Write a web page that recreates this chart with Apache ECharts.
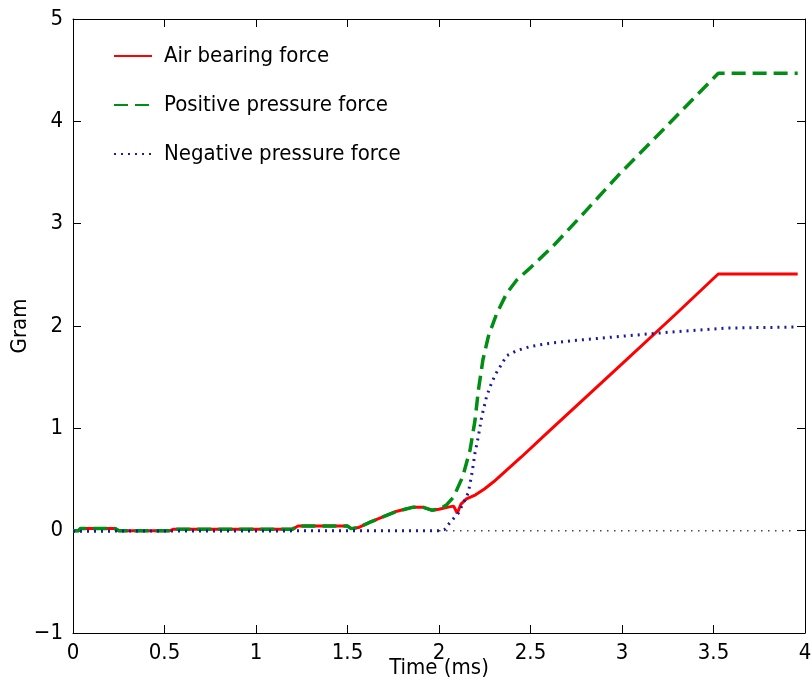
<!DOCTYPE html>
<html>
<head>
<meta charset="utf-8">
<script src="https://cdn.jsdelivr.net/npm/echarts@6/dist/echarts.min.js"></script>
<style>html,body{margin:0;padding:0;background:#fff;}#c{width:812px;height:685px;}</style>
</head>
<body>
<div id="c"></div>
<script>
// ---- data ----
var seriesNames = ['Air bearing force', 'Positive pressure force', 'Negative pressure force'];

var airTime  = [0, 0.03, 0.04, 0.23, 0.25, 0.53, 0.55, 1.2, 1.23, 1.5, 1.52, 1.56, 1.62, 1.7, 1.77, 1.86, 1.91, 1.96, 2.0, 2.05, 2.08, 2.1, 2.12, 2.15, 2.2, 2.25, 2.3, 2.35, 2.45, 2.6, 3.0, 3.29, 3.526, 3.96];
var airForce = [0, 0, 0.02, 0.02, 0, 0, 0.015, 0.015, 0.045, 0.045, 0.02, 0.03, 0.08, 0.14, 0.19, 0.23, 0.23, 0.20, 0.21, 0.23, 0.24, 0.17, 0.26, 0.31, 0.35, 0.41, 0.48, 0.56, 0.72, 0.97, 1.63, 2.11, 2.508, 2.508];

var posTime  = [0, 0.03, 0.04, 0.23, 0.25, 0.53, 0.55, 1.2, 1.23, 1.5, 1.52, 1.56, 1.62, 1.7, 1.77, 1.86, 1.91, 1.96, 2.0, 2.04, 2.08, 2.13, 2.17, 2.197, 2.215, 2.24, 2.27, 2.315, 2.37, 2.425, 2.5, 2.623, 2.8, 2.989, 3.226, 3.4, 3.526, 3.96];
var posForce = [0, 0, 0.02, 0.02, 0, 0, 0.015, 0.015, 0.045, 0.045, 0.02, 0.03, 0.08, 0.14, 0.19, 0.23, 0.23, 0.20, 0.21, 0.25, 0.33, 0.53, 0.79, 1.08, 1.37, 1.67, 1.90, 2.12, 2.32, 2.45, 2.57, 2.78, 3.12, 3.49, 3.92, 4.24, 4.47, 4.47];

var negTime  = [0, 2.0, 2.03, 2.06, 2.105, 2.133, 2.16, 2.18, 2.197, 2.215, 2.233, 2.26, 2.28, 2.306, 2.333, 2.37, 2.425, 2.5, 2.6, 2.75, 3.0, 3.26, 3.57, 3.96];
var negForce = [-0.005, 0.0, 0.01, 0.08, 0.17, 0.27, 0.37, 0.56, 0.76, 0.92, 1.11, 1.31, 1.41, 1.52, 1.60, 1.71, 1.76, 1.80, 1.83, 1.86, 1.90, 1.94, 1.98, 1.99];

var zeroTime  = [2.0, 3.94];
var zeroValue = [0, 0];

var xTicks = {min: 0, max: 4, interval: 0.5};
var yTicks = {min: -1, max: 5, interval: 1};

function pairs(xs, ys) { return xs.map(function (x, i) { return [x, ys[i]]; }); }

var FONT = '"Liberation Sans Narrow", "DejaVu Sans Condensed", "Liberation Sans", Arial, sans-serif';
var axisCommon = {
  axisLine: {show: true, onZero: false, lineStyle: {color: '#000', width: 1}},
  axisTick: {show: true, inside: true, length: 8, lineStyle: {color: '#000', width: 1}},
  splitLine: {show: false}
};

var chart = echarts.init(document.getElementById('c'), null, {renderer: 'canvas'});
chart.setOption({
  animation: false,
  backgroundColor: '#fff',
  grid: {left: 73, right: 7, top: 19, bottom: 52, containLabel: false, outerBoundsMode: 'none'},
  legend: {
    data: seriesNames,
    orient: 'vertical',
    left: 108, top: 40,
    itemWidth: 38, itemHeight: 14, itemGap: 27,
    itemStyle: {color: 'transparent', borderWidth: 0, opacity: 0},
    textStyle: {fontFamily: FONT, fontSize: 22, color: '#000', padding: [0, 0, 0, 7], lineHeight: 22}
  },
  xAxis: [
    Object.assign({
      type: 'value', min: xTicks.min, max: xTicks.max, interval: xTicks.interval, position: 'bottom',
      name: 'Time (ms)', nameLocation: 'middle', nameGap: 24, nameMoveOverlap: false,
      nameTextStyle: {fontFamily: FONT, fontSize: 22, color: '#000', verticalAlign: 'top'},
      axisLabel: {fontFamily: FONT, fontSize: 22, color: '#000', margin: 9}
    }, axisCommon),
    Object.assign({
      type: 'value', min: xTicks.min, max: xTicks.max, interval: xTicks.interval, position: 'top',
      axisLabel: {show: false}
    }, axisCommon)
  ],
  yAxis: [
    Object.assign({
      type: 'value', min: yTicks.min, max: yTicks.max, interval: yTicks.interval, position: 'left',
      name: 'Gram', nameLocation: 'middle', nameGap: 42, nameMoveOverlap: false,
      nameTextStyle: {fontFamily: FONT, fontSize: 22, color: '#000'},
      axisLabel: {fontFamily: FONT, fontSize: 22, color: '#000', margin: 10,
        formatter: function (v) { return String(v).replace('-', '\u2212'); }}
    }, axisCommon),
    Object.assign({
      type: 'value', min: yTicks.min, max: yTicks.max, interval: yTicks.interval, position: 'right',
      axisLabel: {show: false}
    }, axisCommon)
  ],
  series: [
    {
      name: seriesNames[0], type: 'line', symbol: 'none', xAxisIndex: 0, yAxisIndex: 0,
      data: pairs(airTime, airForce), z: 2,
      itemStyle: {color: '#ff0000'},
      lineStyle: {color: '#ff0000', width: 3, type: 'solid'}
    },
    {
      name: seriesNames[1], type: 'line', symbol: 'none', xAxisIndex: 0, yAxisIndex: 0,
      data: pairs(posTime, posForce), z: 3,
      itemStyle: {color: '#008f14'},
      lineStyle: {color: '#008f14', width: 3.5, type: [14, 7], cap: 'butt'}
    },
    {
      name: seriesNames[2], type: 'line', symbol: 'none', xAxisIndex: 0, yAxisIndex: 0,
      data: pairs(negTime, negForce), z: 4,
      itemStyle: {color: '#1a1a9c'},
      lineStyle: {color: '#1a1a9c', width: 3, type: [2, 5], cap: 'butt'}
    },
    {
      name: 'zero', type: 'line', symbol: 'none', xAxisIndex: 0, yAxisIndex: 0,
      data: pairs(zeroTime, zeroValue), z: 1, silent: true,
      lineStyle: {color: '#444', width: 1.5, type: [1.5, 5.5], cap: 'butt'}
    }
  ]
});
</script>
</body>
</html>
